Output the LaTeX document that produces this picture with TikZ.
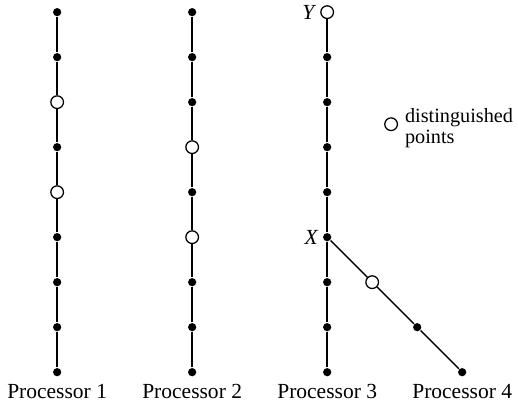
\documentclass[tikz,border=0pt]{standalone}
\usepackage{fontspec}
\setmainfont{Liberation Serif}
\usetikzlibrary{positioning}
\tikzset{
  event/.style={circle,fill,inner sep=0pt,minimum size=5.2pt},
  distpt/.style={circle,draw,fill=white,line width=0.8pt,inner sep=0pt,minimum size=8pt},
  proc/.style={font=\fontsize{13.6}{16}\selectfont,inner sep=1pt}
}
\begin{document}
\begin{tikzpicture}[line width=0.9pt]
            \useasboundingbox (-1.27,-0.76) rectangle (10.24,8.27);
            % processor 1
            \node[event] (a0) at (0,0) {};
            \node[event] (a1) at (0,1) {};
            \node[event] (a2) at (0,2) {};
            \node[event] (a3) at (0,3) {};
            \node[distpt] (a4) at (0,4) {};
            \node[event] (a5) at (0,5) {};
            \node[distpt] (a6) at (0,6) {};
            \node[event] (a7) at (0,7) {};
            \node[event] (a8) at (0,8) {};
            % processor 2
            \node[event] (b0) at (3,0) {};
            \node[event] (b1) at (3,1) {};
            \node[event] (b2) at (3,2) {};
            \node[distpt] (b3) at (3,3) {};
            \node[event] (b4) at (3,4) {};
            \node[distpt] (b5) at (3,5) {};
            \node[event] (b6) at (3,6) {};
            \node[event] (b7) at (3,7) {};
            \node[event] (b8) at (3,8) {};
            % processor 3
            \node[event] (c0) at (6,0) {};
            \node[event] (c1) at (6,1) {};
            \node[event] (c2) at (6,2) {};
            \node[event,label={[proc,inner sep=2pt]left:\textit{X}}] (X) at (6,3) {};
            \node[event] (c4) at (6,4) {};
            \node[event] (c5) at (6,5) {};
            \node[event] (c6) at (6,6) {};
            \node[event] (c7) at (6,7) {};
            \node[distpt,label={[proc,inner sep=2pt]left:\textit{Y}}] (Y) at (6,8) {};
            % processor 4
            \node[distpt] (d2) at (7,2) {};
            \node[event] (d1) at (8,1) {};
            \node[event] (d0) at (9,0) {};
            \draw (a0)--(a1)--(a2)--(a3)--(a4)--(a5)--(a6)--(a7)--(a8);
            \draw (b0)--(b1)--(b2)--(b3)--(b4)--(b5)--(b6)--(b7)--(b8);
            \draw (c0)--(c1)--(c2)--(X)--(c4)--(c5)--(c6)--(c7)--(Y);
            \draw (X)--(d2)--(d1)--(d0);
            % labels
            \node[proc,below=3pt of a0] (p1) {Processor 1};
            \node[proc,below=3pt of b0] (p2) {Processor 2};
            \node[proc,below=3pt of c0] (p3) {Processor 3};
            \node[proc,below=3pt of d0] (p4) {Processor 4};
            % legend
            \node[distpt] (key) at (7.42,5.51) {};
            \node[right=3pt of key,yshift=-2.5pt,align=left,inner sep=1pt,font=\fontsize{12.8}{13.4}\selectfont] (keytext) {distinguished\\points};
\end{tikzpicture}
\end{document}
